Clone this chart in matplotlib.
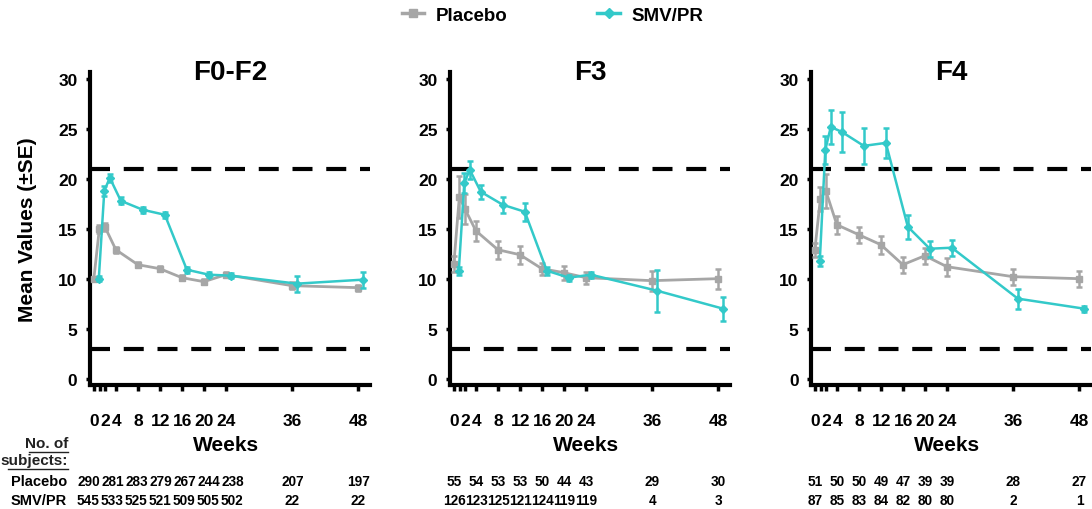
import matplotlib
matplotlib.use("Agg")
import matplotlib.pyplot as plt
from matplotlib.lines import Line2D
from matplotlib.transforms import blended_transform_factory

plt.rcParams["font.family"] = ["Liberation Sans", "DejaVu Sans"]
plt.rcParams["font.weight"] = "bold"

GRAY = "#a6a6a6"
CYAN = "#33c9c9"

weeks = [0, 1, 2, 4, 8, 12, 16, 20, 24, 36, 48]
tick_weeks = [0, 1, 2, 4, 8, 12, 16, 20, 24, 36, 48]
tick_labels = ["0", "", "2", "4", "8", "12", "16", "20", "24", "36", "48"]
count_weeks = [0, 4, 8, 12, 16, 20, 24, 36, 48]

panel_titles = ["F0-F2", "F3", "F4"]

placebo_f02 = [10.0, 15.0, 15.2, 12.9, 11.4, 11.0, 10.1, 9.7, 10.4, 9.3, 9.1]
placebo_f02_se = [0.2, 0.4, 0.4, 0.3, 0.25, 0.25, 0.25, 0.25, 0.25, 0.35, 0.3]
smv_f02 = [10.0, 18.8, 20.1, 17.8, 16.9, 16.4, 10.9, 10.4, 10.3, 9.5, 9.9]
smv_f02_se = [0.25, 0.5, 0.4, 0.35, 0.3, 0.3, 0.3, 0.25, 0.25, 0.8, 0.8]

placebo_f3 = [11.5, 18.2, 17.0, 14.8, 12.9, 12.4, 11.0, 10.6, 10.1, 9.8, 10.0]
placebo_f3_se = [0.8, 2.1, 1.5, 1.0, 0.9, 0.9, 0.6, 0.7, 0.6, 1.0, 1.0]
smv_f3 = [10.8, 19.6, 20.9, 18.7, 17.4, 16.7, 10.8, 10.1, 10.4, 8.8, 7.0]
smv_f3_se = [0.4, 1.0, 0.9, 0.7, 0.8, 0.9, 0.4, 0.3, 0.3, 2.1, 1.2]

placebo_f4 = [12.9, 18.0, 18.8, 15.4, 14.4, 13.4, 11.4, 12.3, 11.2, 10.2, 10.0]
placebo_f4_se = [0.7, 1.2, 1.7, 0.9, 0.8, 0.9, 0.8, 0.8, 0.9, 0.8, 0.8]
smv_f4 = [11.8, 22.9, 25.2, 24.7, 23.3, 23.6, 15.2, 13.0, 13.1, 8.0, 7.0]
smv_f4_se = [0.5, 1.4, 1.7, 2.0, 1.8, 1.5, 1.2, 0.8, 0.8, 1.0, 0.3]

n_placebo_f02 = [290, 281, 283, 279, 267, 244, 238, 207, 197]
n_smv_f02 = [545, 533, 525, 521, 509, 505, 502, 22, 22]
n_placebo_f3 = [55, 54, 53, 53, 50, 44, 43, 29, 30]
n_smv_f3 = [126, 123, 125, 121, 124, 119, 119, 4, 3]
n_placebo_f4 = [51, 50, 50, 49, 47, 39, 39, 28, 27]
n_smv_f4 = [87, 85, 83, 84, 82, 80, 80, 2, 1]

upper_limit = 21
lower_limit = 3

panels = [
    (placebo_f02, placebo_f02_se, smv_f02, smv_f02_se, n_placebo_f02, n_smv_f02),
    (placebo_f3, placebo_f3_se, smv_f3, smv_f3_se, n_placebo_f3, n_smv_f3),
    (placebo_f4, placebo_f4_se, smv_f4, smv_f4_se, n_placebo_f4, n_smv_f4),
]
# the first table's 3-digit counts are spread a little wider than the weeks
count_spread = [1.09, 1.0, 1.0]

W, H = 1092, 510
fig = plt.figure(figsize=(W / 100, H / 100), dpi=100)

lefts = [90, 450, 811]
ax_w, ax_bottom, ax_h = 280, 386, 313

# small horizontal dodge between the two groups, as in the original
dodge_placebo, dodge_smv = -0.1, 0.8

for i, (title, (pl_y, pl_se, smv_y, smv_se, n_pl, n_smv)) in enumerate(zip(panel_titles, panels)):
    ax = fig.add_axes([lefts[i] / W, (H - ax_bottom) / H, ax_w / W, ax_h / H])
    ax.set_xlim(-0.8, 50.1)
    ax.set_ylim(-0.65, 30.7)

    ax.axhline(upper_limit, color="black", lw=3, linestyle=(0, (4.8, 3.3)), zorder=1)
    ax.axhline(lower_limit, color="black", lw=3, linestyle=(0, (4.8, 3.3)), zorder=1)

    ax.errorbar([w + dodge_placebo for w in weeks], pl_y, yerr=pl_se, color=GRAY,
                marker="s", markersize=5, lw=2, elinewidth=1.8, capsize=2.5,
                capthick=1.8, zorder=3)
    ax.errorbar([w + dodge_smv for w in weeks], smv_y, yerr=smv_se, color=CYAN,
                marker="D", markersize=4, lw=1.8, elinewidth=1.8, capsize=2.5,
                capthick=1.8, zorder=4)

    ax.spines["top"].set_visible(False)
    ax.spines["right"].set_visible(False)
    ax.spines["left"].set_linewidth(3)
    ax.spines["bottom"].set_linewidth(3)

    ax.set_yticks([0, 5, 10, 15, 20, 25, 30])
    ax.set_xticks(tick_weeks)
    ax.set_xticklabels(tick_labels)
    ax.tick_params(axis="y", length=3, width=2.5, pad=6, labelsize=12.5)
    ax.tick_params(axis="x", length=4, width=2.5, pad=16, labelsize=12.5)

    ax.text(0.5, 0.978, title, transform=ax.transAxes, ha="center", va="baseline",
            fontsize=20, fontweight="bold")

    xfig = blended_transform_factory(ax.transData, fig.transFigure)
    ax.text(24, 1 - 446 / H, "Weeks", transform=xfig, ha="center", va="center",
            fontsize=15, fontweight="bold")
    for w, a, b in zip(count_weeks, n_pl, n_smv):
        xw = 12 + (w - 12) * count_spread[i] if w <= 24 else w
        ax.text(xw, 1 - 482 / H, str(a), transform=xfig, ha="center", va="center",
                fontsize=9.8, fontweight="bold")
        ax.text(xw, 1 - 501 / H, str(b), transform=xfig, ha="center", va="center",
                fontsize=9.8, fontweight="bold")

    if i == 0:
        ax.set_ylabel("Mean Values (\u00b1SE)", fontsize=15, fontweight="bold", labelpad=15)

fig.text(68 / W, 1 - 444 / H, "No. of", ha="right", va="center", fontsize=11,
         fontweight="bold", color="#222222")
fig.text(68 / W, 1 - 461 / H, "subjects:", ha="right", va="center", fontsize=11,
         fontweight="bold", color="#222222")
# underlines for the table heading
fig.add_artist(Line2D([29 / W, 68 / W], [1 - 452.5 / H] * 2, color="#222222", lw=1))
fig.add_artist(Line2D([8 / W, 68 / W], [1 - 469.5 / H] * 2, color="#222222", lw=1))
fig.text(67 / W, 1 - 482 / H, "Placebo", ha="right", va="center", fontsize=10.5,
         fontweight="bold")
fig.text(67 / W, 1 - 501 / H, "SMV/PR", ha="right", va="center", fontsize=10.5,
         fontweight="bold")

handles = [
    Line2D([], [], color=GRAY, marker="s", markersize=6, lw=2.5),
    Line2D([], [], color=CYAN, marker="D", markersize=5, lw=2.5),
]
fig.legend(handles, ["Placebo", "SMV/PR"], loc="center", bbox_to_anchor=(0.506, 1 - 16 / H),
           ncol=2, frameon=False, fontsize=13.5, handlelength=1.2, handletextpad=0.6,
           columnspacing=4.8)

fig.savefig("out.png", dpi=100)
